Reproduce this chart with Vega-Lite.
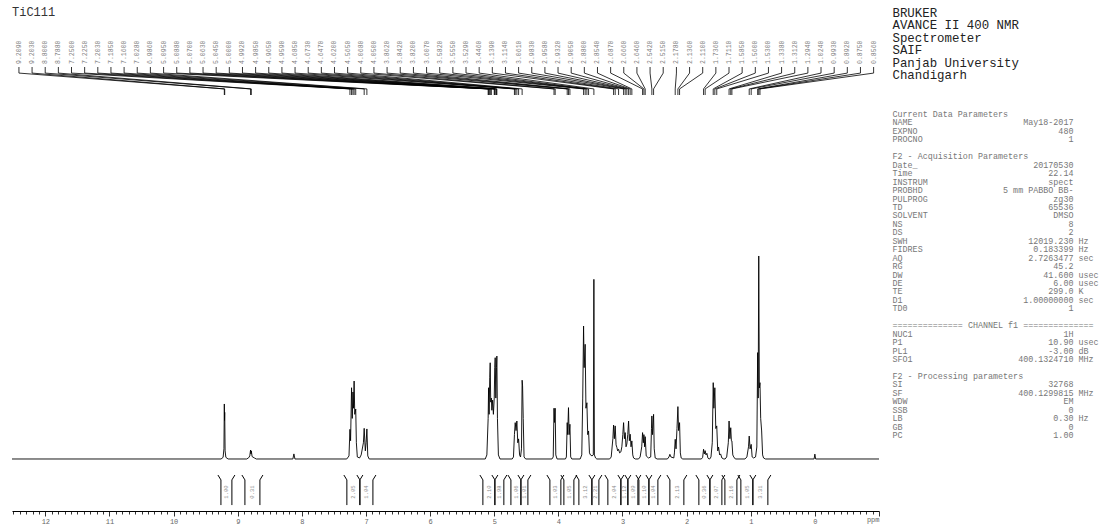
{
  "$schema": "https://vega.github.io/schema/vega-lite/v6.json",
  "padding": {"left": 10, "top": 5, "right": 4, "bottom": 0},
  "background": "white",
  "spacing": 11,
  "config": {"view": {"stroke": null}, "axis": {"disable": false}, "axisX": {"disable": false, "grid": false}},
  "datasets": {
    "spectrum": [
      {"ppm":12.52,"i":0},
      {"ppm":9.26,"i":0},{"ppm":9.228,"i":0.8},{"ppm":9.215,"i":5},{"ppm":9.209,"i":27.1},{"ppm":9.206,"i":19},{"ppm":9.203,"i":23},{"ppm":9.197,"i":4},{"ppm":9.185,"i":0.8},{"ppm":9.15,"i":0},
      {"ppm":8.86,"i":0},{"ppm":8.83,"i":0.6},{"ppm":8.812,"i":1.5},{"ppm":8.8,"i":4.4},{"ppm":8.794,"i":2.5},{"ppm":8.788,"i":4},{"ppm":8.776,"i":1.2},{"ppm":8.74,"i":0.5},{"ppm":8.71,"i":0},
      {"ppm":8.14,"i":0},{"ppm":8.124,"i":2.5},{"ppm":8.108,"i":0},
      {"ppm":7.3,"i":0},{"ppm":7.265,"i":1.5},{"ppm":7.25,"i":14.6},{"ppm":7.24,"i":9},{"ppm":7.225,"i":35.1},{"ppm":7.214,"i":20},{"ppm":7.203,"i":33},{"ppm":7.195,"i":25},{"ppm":7.185,"i":38.4},{"ppm":7.175,"i":22},{"ppm":7.16,"i":24.6},{"ppm":7.15,"i":8},{"ppm":7.135,"i":1},{"ppm":7.1,"i":0.5},{"ppm":7.075,"i":2},{"ppm":7.04,"i":8},{"ppm":7.028,"i":15.1},{"ppm":7.01,"i":4},{"ppm":6.998,"i":8},{"ppm":6.986,"i":14.8},{"ppm":6.972,"i":1.5},{"ppm":6.95,"i":0},
      {"ppm":5.14,"i":0},{"ppm":5.115,"i":2},{"ppm":5.095,"i":20},{"ppm":5.088,"i":35.1},{"ppm":5.08,"i":22},{"ppm":5.07,"i":40},{"ppm":5.063,"i":47.4},{"ppm":5.055,"i":28},{"ppm":5.045,"i":30},{"ppm":5.037,"i":24},{"ppm":5.025,"i":29},{"ppm":5.013,"i":22},{"ppm":5.0,"i":30},{"ppm":4.992,"i":45},{"ppm":4.985,"i":49.9},{"ppm":4.975,"i":30},{"ppm":4.965,"i":45},{"ppm":4.959,"i":50.7},{"ppm":4.95,"i":20},{"ppm":4.935,"i":2},{"ppm":4.91,"i":0},
      {"ppm":4.72,"i":0},{"ppm":4.7,"i":1},{"ppm":4.685,"i":12},{"ppm":4.673,"i":17.9},{"ppm":4.66,"i":14},{"ppm":4.647,"i":18.7},{"ppm":4.633,"i":8},{"ppm":4.62,"i":9.9},{"ppm":4.605,"i":2},{"ppm":4.59,"i":1},{"ppm":4.575,"i":5},{"ppm":4.565,"i":38.8},{"ppm":4.558,"i":36},{"ppm":4.548,"i":20},{"ppm":4.535,"i":1},{"ppm":4.51,"i":0},
      {"ppm":4.1,"i":0},{"ppm":4.08,"i":1},{"ppm":4.068,"i":25},{"ppm":4.06,"i":18},{"ppm":4.05,"i":25},{"ppm":4.04,"i":2},{"ppm":4.02,"i":0},
      {"ppm":3.89,"i":0},{"ppm":3.875,"i":1},{"ppm":3.862,"i":17.9},{"ppm":3.855,"i":12},{"ppm":3.842,"i":25.3},{"ppm":3.832,"i":12},{"ppm":3.82,"i":17.1},{"ppm":3.808,"i":1},{"ppm":3.79,"i":0},
      {"ppm":3.66,"i":0},{"ppm":3.635,"i":2},{"ppm":3.62,"i":30},{"ppm":3.607,"i":65.5},{"ppm":3.598,"i":45},{"ppm":3.582,"i":56.5},{"ppm":3.57,"i":25},{"ppm":3.555,"i":27.7},{"ppm":3.542,"i":12},{"ppm":3.529,"i":13.8},{"ppm":3.515,"i":3},{"ppm":3.5,"i":2},{"ppm":3.475,"i":1.5},{"ppm":3.455,"i":2},{"ppm":3.446,"i":88.5},{"ppm":3.438,"i":2},{"ppm":3.42,"i":0.5},{"ppm":3.4,"i":0},
      {"ppm":3.2,"i":0},{"ppm":3.176,"i":1},{"ppm":3.15,"i":10},{"ppm":3.139,"i":16.7},{"ppm":3.127,"i":10},{"ppm":3.114,"i":16.3},{"ppm":3.1,"i":7},{"ppm":3.087,"i":5.6},{"ppm":3.075,"i":4},{"ppm":3.061,"i":4.8},{"ppm":3.045,"i":3},{"ppm":3.025,"i":3.5},{"ppm":3.01,"i":6},{"ppm":2.995,"i":12},{"ppm":2.983,"i":17.9},{"ppm":2.97,"i":10},{"ppm":2.958,"i":13},{"ppm":2.945,"i":6},{"ppm":2.932,"i":7.4},{"ppm":2.918,"i":12},{"ppm":2.905,"i":18.7},{"ppm":2.893,"i":9},{"ppm":2.88,"i":12.2},{"ppm":2.867,"i":6},{"ppm":2.854,"i":8.9},{"ppm":2.84,"i":2},{"ppm":2.827,"i":0.5},{"ppm":2.8,"i":0},
      {"ppm":2.75,"i":0},{"ppm":2.725,"i":1},{"ppm":2.7,"i":6},{"ppm":2.687,"i":13},{"ppm":2.675,"i":8},{"ppm":2.666,"i":12},{"ppm":2.655,"i":6},{"ppm":2.646,"i":11},{"ppm":2.63,"i":1.5},{"ppm":2.595,"i":0.5},{"ppm":2.56,"i":1},{"ppm":2.548,"i":15},{"ppm":2.542,"i":21.2},{"ppm":2.532,"i":12},{"ppm":2.515,"i":22},{"ppm":2.505,"i":5},{"ppm":2.49,"i":0.5},{"ppm":2.46,"i":0},
      {"ppm":2.3,"i":0},{"ppm":2.275,"i":1},{"ppm":2.261,"i":2.3},{"ppm":2.245,"i":1},{"ppm":2.2,"i":0.5},{"ppm":2.19,"i":3},{"ppm":2.178,"i":9.7},{"ppm":2.165,"i":5},{"ppm":2.15,"i":15},{"ppm":2.136,"i":25.8},{"ppm":2.125,"i":14},{"ppm":2.11,"i":17.9},{"ppm":2.098,"i":3},{"ppm":2.085,"i":0.5},{"ppm":2.06,"i":0},
      {"ppm":1.77,"i":0},{"ppm":1.75,"i":0.8},{"ppm":1.736,"i":4.8},{"ppm":1.724,"i":2.5},{"ppm":1.711,"i":4.1},{"ppm":1.698,"i":2},{"ppm":1.684,"i":2.8},{"ppm":1.668,"i":0.5},{"ppm":1.652,"i":0},
      {"ppm":1.64,"i":0},{"ppm":1.62,"i":1},{"ppm":1.6,"i":8},{"ppm":1.585,"i":37.6},{"ppm":1.575,"i":25},{"ppm":1.56,"i":35.1},{"ppm":1.545,"i":15},{"ppm":1.53,"i":16.3},{"ppm":1.515,"i":4},{"ppm":1.502,"i":5.9},{"ppm":1.485,"i":2},{"ppm":1.47,"i":2.5},{"ppm":1.45,"i":0.5},{"ppm":1.42,"i":0},
      {"ppm":1.4,"i":0},{"ppm":1.375,"i":1},{"ppm":1.35,"i":8},{"ppm":1.338,"i":18.7},{"ppm":1.325,"i":10},{"ppm":1.312,"i":15.4},{"ppm":1.302,"i":9},{"ppm":1.294,"i":8.9},{"ppm":1.28,"i":2},{"ppm":1.265,"i":1},{"ppm":1.24,"i":0},
      {"ppm":1.09,"i":0},{"ppm":1.06,"i":1},{"ppm":1.035,"i":6},{"ppm":1.024,"i":11.3},{"ppm":1.01,"i":5},{"ppm":0.993,"i":7.2},{"ppm":0.978,"i":1},{"ppm":0.955,"i":0.5},{"ppm":0.925,"i":1},{"ppm":0.905,"i":5.9},{"ppm":0.892,"i":52.4},{"ppm":0.884,"i":30},{"ppm":0.875,"i":100},{"ppm":0.866,"i":35},{"ppm":0.856,"i":37.6},{"ppm":0.845,"i":20},{"ppm":0.83,"i":13.8},{"ppm":0.815,"i":2},{"ppm":0.8,"i":0.5},{"ppm":0.77,"i":0},
      {"ppm":0.012,"i":0},{"ppm":0.0,"i":2.4},{"ppm":-0.012,"i":0},
      {"ppm":-1.0,"i":0}
    ],
    "peaks": [
      {"p":9.209,"lx":12.412},{"p":9.203,"lx":12.207},{"p":8.8,"lx":12.002},{"p":8.788,"lx":11.797},{"p":7.25,"lx":11.592},{"p":7.225,"lx":11.387},{"p":7.203,"lx":11.182},{"p":7.185,"lx":10.977},{"p":7.16,"lx":10.772},{"p":7.028,"lx":10.567},{"p":6.986,"lx":10.362},
      {"p":5.095,"lx":10.156},{"p":5.088,"lx":9.951},{"p":5.07,"lx":9.746},{"p":5.063,"lx":9.541},{"p":5.045,"lx":9.336},{"p":5.0,"lx":9.131},{"p":4.992,"lx":8.926},{"p":4.985,"lx":8.721},{"p":4.965,"lx":8.516},{"p":4.959,"lx":8.311},
      {"p":4.685,"lx":8.106},{"p":4.673,"lx":7.901},{"p":4.647,"lx":7.696},{"p":4.62,"lx":7.491},{"p":4.565,"lx":7.286},{"p":4.068,"lx":7.081},{"p":4.05,"lx":6.876},{"p":3.862,"lx":6.671},{"p":3.842,"lx":6.466},{"p":3.82,"lx":6.26},
      {"p":3.607,"lx":6.055},{"p":3.582,"lx":5.85},{"p":3.555,"lx":5.645},{"p":3.529,"lx":5.44},{"p":3.446,"lx":5.235},{"p":3.139,"lx":5.03},{"p":3.114,"lx":4.825},{"p":3.061,"lx":4.62},{"p":2.983,"lx":4.415},{"p":2.958,"lx":4.21},
      {"p":2.932,"lx":4.005},{"p":2.905,"lx":3.8},{"p":2.88,"lx":3.595},{"p":2.854,"lx":3.39},{"p":2.687,"lx":3.185},{"p":2.666,"lx":2.98},{"p":2.646,"lx":2.775},{"p":2.542,"lx":2.57},{"p":2.515,"lx":2.365},{"p":2.178,"lx":2.159},
      {"p":2.136,"lx":1.954},{"p":2.11,"lx":1.749},{"p":1.736,"lx":1.544},{"p":1.711,"lx":1.339},{"p":1.585,"lx":1.134},{"p":1.56,"lx":0.929},{"p":1.53,"lx":0.724},{"p":1.338,"lx":0.519},{"p":1.312,"lx":0.314},{"p":1.294,"lx":0.109},
      {"p":1.024,"lx":-0.096},{"p":0.993,"lx":-0.301},{"p":0.892,"lx":-0.506},{"p":0.875,"lx":-0.711},{"p":0.856,"lx":-0.916}
    ],
    "integrals": [
      {"a":9.262,"b":9.091,"m":9.176,"v":"1.00"},
      {"a":8.888,"b":8.654,"m":8.771,"v":"0.31"},
      {"a":7.298,"b":7.095,"m":7.196,"v":"2.05"},
      {"a":7.095,"b":6.892,"m":6.993,"v":"1.04"},
      {"a":5.177,"b":4.99,"m":5.083,"v":"2.10"},
      {"a":4.99,"b":4.85,"m":4.92,"v":"1.98"},
      {"a":4.74,"b":4.584,"m":4.662,"v":"1.06"},
      {"a":4.584,"b":4.475,"m":4.53,"v":"1.01"},
      {"a":4.132,"b":3.961,"m":4.046,"v":"1.03"},
      {"a":3.914,"b":3.758,"m":3.836,"v":"1.05"},
      {"a":3.68,"b":3.477,"m":3.578,"v":"3.12"},
      {"a":3.477,"b":3.368,"m":3.422,"v":"2.21"},
      {"a":3.228,"b":3.025,"m":3.126,"v":"2.04"},
      {"a":3.025,"b":2.916,"m":2.97,"v":"1.12"},
      {"a":2.916,"b":2.76,"m":2.838,"v":"1.09"},
      {"a":2.744,"b":2.588,"m":2.666,"v":"1.10"},
      {"a":2.588,"b":2.448,"m":2.518,"v":"1.04"},
      {"a":2.261,"b":2.043,"m":2.152,"v":"2.13"},
      {"a":1.809,"b":1.637,"m":1.723,"v":"0.36"},
      {"a":1.637,"b":1.45,"m":1.543,"v":"2.07"},
      {"a":1.403,"b":1.216,"m":1.31,"v":"2.16"},
      {"a":1.154,"b":0.967,"m":1.06,"v":"1.05"},
      {"a":0.967,"b":0.733,"m":0.85,"v":"3.31"}
    ],
    "header": [
      {"h":0,"t":"BRUKER"},
      {"h":1,"t":"AVANCE II 400 NMR"},
      {"h":2,"t":"Spectrometer"},
      {"h":3,"t":"SAIF"},
      {"h":4,"t":"Panjab University"},
      {"h":5,"t":"Chandigarh"}
    ],
    "params": [
      {"r":0,"t":"Current Data Parameters"},
      {"r":1,"t":"NAME\u00a0\u00a0\u00a0\u00a0\u00a0\u00a0\u00a0\u00a0\u00a0\u00a0\u00a0\u00a0\u00a0\u00a0\u00a0\u00a0\u00a0\u00a0\u00a0\u00a0\u00a0\u00a0May18-2017"},
      {"r":2,"t":"EXPNO\u00a0\u00a0\u00a0\u00a0\u00a0\u00a0\u00a0\u00a0\u00a0\u00a0\u00a0\u00a0\u00a0\u00a0\u00a0\u00a0\u00a0\u00a0\u00a0\u00a0\u00a0\u00a0\u00a0\u00a0\u00a0\u00a0\u00a0\u00a0480"},
      {"r":3,"t":"PROCNO\u00a0\u00a0\u00a0\u00a0\u00a0\u00a0\u00a0\u00a0\u00a0\u00a0\u00a0\u00a0\u00a0\u00a0\u00a0\u00a0\u00a0\u00a0\u00a0\u00a0\u00a0\u00a0\u00a0\u00a0\u00a0\u00a0\u00a0\u00a0\u00a01"},
      {"r":5,"t":"F2 - Acquisition Parameters"},
      {"r":6,"t":"Date_\u00a0\u00a0\u00a0\u00a0\u00a0\u00a0\u00a0\u00a0\u00a0\u00a0\u00a0\u00a0\u00a0\u00a0\u00a0\u00a0\u00a0\u00a0\u00a0\u00a0\u00a0\u00a0\u00a020170530"},
      {"r":7,"t":"Time\u00a0\u00a0\u00a0\u00a0\u00a0\u00a0\u00a0\u00a0\u00a0\u00a0\u00a0\u00a0\u00a0\u00a0\u00a0\u00a0\u00a0\u00a0\u00a0\u00a0\u00a0\u00a0\u00a0\u00a0\u00a0\u00a0\u00a022.14"},
      {"r":8,"t":"INSTRUM\u00a0\u00a0\u00a0\u00a0\u00a0\u00a0\u00a0\u00a0\u00a0\u00a0\u00a0\u00a0\u00a0\u00a0\u00a0\u00a0\u00a0\u00a0\u00a0\u00a0\u00a0\u00a0\u00a0\u00a0spect"},
      {"r":9,"t":"PROBHD\u00a0\u00a0\u00a0\u00a0\u00a0\u00a0\u00a0\u00a0\u00a0\u00a0\u00a0\u00a0\u00a0\u00a0\u00a0\u00a05\u00a0mm\u00a0PABBO\u00a0BB-"},
      {"r":10,"t":"PULPROG\u00a0\u00a0\u00a0\u00a0\u00a0\u00a0\u00a0\u00a0\u00a0\u00a0\u00a0\u00a0\u00a0\u00a0\u00a0\u00a0\u00a0\u00a0\u00a0\u00a0\u00a0\u00a0\u00a0\u00a0\u00a0zg30"},
      {"r":11,"t":"TD\u00a0\u00a0\u00a0\u00a0\u00a0\u00a0\u00a0\u00a0\u00a0\u00a0\u00a0\u00a0\u00a0\u00a0\u00a0\u00a0\u00a0\u00a0\u00a0\u00a0\u00a0\u00a0\u00a0\u00a0\u00a0\u00a0\u00a0\u00a0\u00a065536"},
      {"r":12,"t":"SOLVENT\u00a0\u00a0\u00a0\u00a0\u00a0\u00a0\u00a0\u00a0\u00a0\u00a0\u00a0\u00a0\u00a0\u00a0\u00a0\u00a0\u00a0\u00a0\u00a0\u00a0\u00a0\u00a0\u00a0\u00a0\u00a0DMSO"},
      {"r":13,"t":"NS\u00a0\u00a0\u00a0\u00a0\u00a0\u00a0\u00a0\u00a0\u00a0\u00a0\u00a0\u00a0\u00a0\u00a0\u00a0\u00a0\u00a0\u00a0\u00a0\u00a0\u00a0\u00a0\u00a0\u00a0\u00a0\u00a0\u00a0\u00a0\u00a0\u00a0\u00a0\u00a0\u00a08"},
      {"r":14,"t":"DS\u00a0\u00a0\u00a0\u00a0\u00a0\u00a0\u00a0\u00a0\u00a0\u00a0\u00a0\u00a0\u00a0\u00a0\u00a0\u00a0\u00a0\u00a0\u00a0\u00a0\u00a0\u00a0\u00a0\u00a0\u00a0\u00a0\u00a0\u00a0\u00a0\u00a0\u00a0\u00a0\u00a02"},
      {"r":15,"t":"SWH\u00a0\u00a0\u00a0\u00a0\u00a0\u00a0\u00a0\u00a0\u00a0\u00a0\u00a0\u00a0\u00a0\u00a0\u00a0\u00a0\u00a0\u00a0\u00a0\u00a0\u00a0\u00a0\u00a0\u00a012019.230\u00a0Hz"},
      {"r":16,"t":"FIDRES\u00a0\u00a0\u00a0\u00a0\u00a0\u00a0\u00a0\u00a0\u00a0\u00a0\u00a0\u00a0\u00a0\u00a0\u00a0\u00a0\u00a0\u00a0\u00a0\u00a0\u00a0\u00a00.183399\u00a0Hz"},
      {"r":17,"t":"AQ\u00a0\u00a0\u00a0\u00a0\u00a0\u00a0\u00a0\u00a0\u00a0\u00a0\u00a0\u00a0\u00a0\u00a0\u00a0\u00a0\u00a0\u00a0\u00a0\u00a0\u00a0\u00a0\u00a0\u00a0\u00a02.7263477\u00a0sec"},
      {"r":18,"t":"RG\u00a0\u00a0\u00a0\u00a0\u00a0\u00a0\u00a0\u00a0\u00a0\u00a0\u00a0\u00a0\u00a0\u00a0\u00a0\u00a0\u00a0\u00a0\u00a0\u00a0\u00a0\u00a0\u00a0\u00a0\u00a0\u00a0\u00a0\u00a0\u00a0\u00a045.2"},
      {"r":19,"t":"DW\u00a0\u00a0\u00a0\u00a0\u00a0\u00a0\u00a0\u00a0\u00a0\u00a0\u00a0\u00a0\u00a0\u00a0\u00a0\u00a0\u00a0\u00a0\u00a0\u00a0\u00a0\u00a0\u00a0\u00a0\u00a0\u00a0\u00a0\u00a041.600\u00a0usec"},
      {"r":20,"t":"DE\u00a0\u00a0\u00a0\u00a0\u00a0\u00a0\u00a0\u00a0\u00a0\u00a0\u00a0\u00a0\u00a0\u00a0\u00a0\u00a0\u00a0\u00a0\u00a0\u00a0\u00a0\u00a0\u00a0\u00a0\u00a0\u00a0\u00a0\u00a0\u00a0\u00a06.00\u00a0usec"},
      {"r":21,"t":"TE\u00a0\u00a0\u00a0\u00a0\u00a0\u00a0\u00a0\u00a0\u00a0\u00a0\u00a0\u00a0\u00a0\u00a0\u00a0\u00a0\u00a0\u00a0\u00a0\u00a0\u00a0\u00a0\u00a0\u00a0\u00a0\u00a0\u00a0\u00a0\u00a0299.0\u00a0K"},
      {"r":22,"t":"D1\u00a0\u00a0\u00a0\u00a0\u00a0\u00a0\u00a0\u00a0\u00a0\u00a0\u00a0\u00a0\u00a0\u00a0\u00a0\u00a0\u00a0\u00a0\u00a0\u00a0\u00a0\u00a0\u00a0\u00a01.00000000\u00a0sec"},
      {"r":23,"t":"TD0\u00a0\u00a0\u00a0\u00a0\u00a0\u00a0\u00a0\u00a0\u00a0\u00a0\u00a0\u00a0\u00a0\u00a0\u00a0\u00a0\u00a0\u00a0\u00a0\u00a0\u00a0\u00a0\u00a0\u00a0\u00a0\u00a0\u00a0\u00a0\u00a0\u00a0\u00a0\u00a01"},
      {"r":25,"t":"==============\u00a0CHANNEL\u00a0f1\u00a0=============="},
      {"r":26,"t":"NUC1\u00a0\u00a0\u00a0\u00a0\u00a0\u00a0\u00a0\u00a0\u00a0\u00a0\u00a0\u00a0\u00a0\u00a0\u00a0\u00a0\u00a0\u00a0\u00a0\u00a0\u00a0\u00a0\u00a0\u00a0\u00a0\u00a0\u00a0\u00a0\u00a0\u00a01H"},
      {"r":27,"t":"P1\u00a0\u00a0\u00a0\u00a0\u00a0\u00a0\u00a0\u00a0\u00a0\u00a0\u00a0\u00a0\u00a0\u00a0\u00a0\u00a0\u00a0\u00a0\u00a0\u00a0\u00a0\u00a0\u00a0\u00a0\u00a0\u00a0\u00a0\u00a0\u00a010.90\u00a0usec"},
      {"r":28,"t":"PL1\u00a0\u00a0\u00a0\u00a0\u00a0\u00a0\u00a0\u00a0\u00a0\u00a0\u00a0\u00a0\u00a0\u00a0\u00a0\u00a0\u00a0\u00a0\u00a0\u00a0\u00a0\u00a0\u00a0\u00a0\u00a0\u00a0\u00a0\u00a0-3.00\u00a0dB"},
      {"r":29,"t":"SFO1\u00a0\u00a0\u00a0\u00a0\u00a0\u00a0\u00a0\u00a0\u00a0\u00a0\u00a0\u00a0\u00a0\u00a0\u00a0\u00a0\u00a0\u00a0\u00a0\u00a0\u00a0400.1324710\u00a0MHz"},
      {"r":31,"t":"F2 - Processing parameters"},
      {"r":32,"t":"SI\u00a0\u00a0\u00a0\u00a0\u00a0\u00a0\u00a0\u00a0\u00a0\u00a0\u00a0\u00a0\u00a0\u00a0\u00a0\u00a0\u00a0\u00a0\u00a0\u00a0\u00a0\u00a0\u00a0\u00a0\u00a0\u00a0\u00a0\u00a0\u00a032768"},
      {"r":33,"t":"SF\u00a0\u00a0\u00a0\u00a0\u00a0\u00a0\u00a0\u00a0\u00a0\u00a0\u00a0\u00a0\u00a0\u00a0\u00a0\u00a0\u00a0\u00a0\u00a0\u00a0\u00a0\u00a0\u00a0400.1299815\u00a0MHz"},
      {"r":34,"t":"WDW\u00a0\u00a0\u00a0\u00a0\u00a0\u00a0\u00a0\u00a0\u00a0\u00a0\u00a0\u00a0\u00a0\u00a0\u00a0\u00a0\u00a0\u00a0\u00a0\u00a0\u00a0\u00a0\u00a0\u00a0\u00a0\u00a0\u00a0\u00a0\u00a0\u00a0\u00a0EM"},
      {"r":35,"t":"SSB\u00a0\u00a0\u00a0\u00a0\u00a0\u00a0\u00a0\u00a0\u00a0\u00a0\u00a0\u00a0\u00a0\u00a0\u00a0\u00a0\u00a0\u00a0\u00a0\u00a0\u00a0\u00a0\u00a0\u00a0\u00a0\u00a0\u00a0\u00a0\u00a0\u00a0\u00a0\u00a00"},
      {"r":36,"t":"LB\u00a0\u00a0\u00a0\u00a0\u00a0\u00a0\u00a0\u00a0\u00a0\u00a0\u00a0\u00a0\u00a0\u00a0\u00a0\u00a0\u00a0\u00a0\u00a0\u00a0\u00a0\u00a0\u00a0\u00a0\u00a0\u00a0\u00a0\u00a0\u00a0\u00a00.30\u00a0Hz"},
      {"r":37,"t":"GB\u00a0\u00a0\u00a0\u00a0\u00a0\u00a0\u00a0\u00a0\u00a0\u00a0\u00a0\u00a0\u00a0\u00a0\u00a0\u00a0\u00a0\u00a0\u00a0\u00a0\u00a0\u00a0\u00a0\u00a0\u00a0\u00a0\u00a0\u00a0\u00a0\u00a0\u00a0\u00a0\u00a00"},
      {"r":38,"t":"PC\u00a0\u00a0\u00a0\u00a0\u00a0\u00a0\u00a0\u00a0\u00a0\u00a0\u00a0\u00a0\u00a0\u00a0\u00a0\u00a0\u00a0\u00a0\u00a0\u00a0\u00a0\u00a0\u00a0\u00a0\u00a0\u00a0\u00a0\u00a0\u00a0\u00a01.00"}
    ]
  },
  "hconcat": [
    {
      "width": 867,
      "height": 505,
      "encoding": {
        "x": {"type": "quantitative", "scale": {"domain": [-1.0, 12.52], "reverse": true, "nice": false, "zero": false},
          "axis": {
            "disable": false, "orient": "bottom",
            "title": "ppm", "titleAnchor": "start", "titleAlign": "right", "titleBaseline": "top", "titlePadding": -9,
            "titleFont": "Liberation Mono", "titleFontSize": 7, "titleFontWeight": "normal", "titleColor": "#666",
            "values": [12.5,12.4,12.3,12.2,12.1,12,11.9,11.8,11.7,11.6,11.5,11.4,11.3,11.2,11.1,11,10.9,10.8,10.7,10.6,10.5,10.4,10.3,10.2,10.1,10,9.9,9.8,9.7,9.6,9.5,9.4,9.3,9.2,9.1,9,8.9,8.8,8.7,8.6,8.5,8.4,8.3,8.2,8.1,8,7.9,7.8,7.7,7.6,7.5,7.4,7.3,7.2,7.1,7,6.9,6.8,6.7,6.6,6.5,6.4,6.3,6.2,6.1,6,5.9,5.8,5.7,5.6,5.5,5.4,5.3,5.2,5.1,5,4.9,4.8,4.7,4.6,4.5,4.4,4.3,4.2,4.1,4,3.9,3.8,3.7,3.6,3.5,3.4,3.3,3.2,3.1,3,2.9,2.8,2.7,2.6,2.5,2.4,2.3,2.2,2.1,2,1.9,1.8,1.7,1.6,1.5,1.4,1.3,1.2,1.1,1,0.9,0.8,0.7,0.6,0.5,0.4,0.3,0.2,0.1,0,-0.1,-0.2,-0.3,-0.4,-0.5,-0.6,-0.7,-0.8,-0.9,-1],
            "labelExpr": "datum.value >= 0 && abs(datum.value - round(datum.value)) < 0.01 ? format(datum.value, 'd') : ''",
            "labelFont": "Liberation Mono", "labelFontSize": 7, "labelColor": "#666", "labelPadding": 1,
            "labelOverlap": false, "labelFlush": false, "grid": false,
            "domainColor": "#000", "domainWidth": 1, "tickColor": "#000", "tickWidth": 0.8, "tickSize": 5,
            "tickDash": {"condition": {"test": "abs(datum.value - round(datum.value)) < 0.01", "value": []}, "value": [3, 10]}
          }
        },
        "y": {"type": "quantitative", "scale": {"domain": [-25.62, 223.15], "nice": false, "zero": false}, "axis": null}
      },
      "layer": [
        {
          "data": {"name": "spectrum"},
          "mark": {"type": "line", "color": "#000", "strokeWidth": 0.9},
          "encoding": {
            "x": {"field": "ppm"},
            "y": {"field": "i"}
          }
        },
        {
          "data": {"values": [{"t": "TiC111"}]},
          "mark": {"type": "text", "align": "left", "baseline": "middle", "font": "Liberation Mono", "fontSize": 12, "color": "#333"},
          "encoding": {
            "x": {"datum": 12.52},
            "y": {"datum": 220.2},
            "text": {"field": "t"}
          }
        },
        {
          "data": {"name": "peaks"},
          "mark": {"type": "text", "angle": 270, "align": "left", "baseline": "middle", "font": "Liberation Mono", "fontSize": 6.5, "color": "#808080"},
          "encoding": {
            "x": {"field": "lx"},
            "y": {"datum": 194.6},
            "text": {"field": "p", "type": "quantitative", "format": ".4f"}
          }
        },
        {
          "data": {"name": "peaks"},
          "mark": {"type": "rule", "color": "#000", "strokeWidth": 0.8},
          "encoding": {
            "x": {"field": "lx"},
            "y": {"datum": 193.1},
            "y2": {"datum": 190.1}
          }
        },
        {
          "data": {"name": "peaks"},
          "mark": {"type": "rule", "color": "#000", "strokeWidth": 0.8},
          "encoding": {
            "x": {"field": "lx"},
            "x2": {"field": "p"},
            "y": {"datum": 190.1},
            "y2": {"datum": 182.3}
          }
        },
        {
          "data": {"name": "peaks"},
          "mark": {"type": "rule", "color": "#000", "strokeWidth": 0.8},
          "encoding": {
            "x": {"field": "p"},
            "y": {"datum": 182.3},
            "y2": {"datum": 179.3}
          }
        },
        {
          "data": {"name": "integrals"},
          "mark": {"type": "rule", "color": "#000", "strokeWidth": 1},
          "encoding": {
            "x": {"field": "a"},
            "y": {"datum": -10.3},
            "y2": {"datum": -22.7}
          }
        },
        {
          "data": {"name": "integrals"},
          "mark": {"type": "rule", "color": "#000", "strokeWidth": 1},
          "encoding": {
            "x": {"field": "b"},
            "y": {"datum": -10.3},
            "y2": {"datum": -22.7}
          }
        },
        {
          "data": {"name": "integrals"},
          "mark": {"type": "rule", "color": "#000", "strokeWidth": 1, "xOffset": -3},
          "encoding": {
            "x": {"field": "a"},
            "x2": {"field": "a"},
            "y": {"datum": -7.9},
            "y2": {"datum": -10.3}
          }
        },
        {
          "data": {"name": "integrals"},
          "mark": {"type": "rule", "color": "#000", "strokeWidth": 1, "xOffset": 3},
          "encoding": {
            "x": {"field": "b"},
            "x2": {"field": "b"},
            "y": {"datum": -7.9},
            "y2": {"datum": -10.3}
          }
        },
        {
          "data": {"name": "integrals"},
          "mark": {"type": "text", "angle": 270, "align": "center", "baseline": "middle", "font": "Liberation Mono", "fontSize": 5.5, "color": "#8a8a8a"},
          "encoding": {
            "x": {"field": "m"},
            "y": {"datum": -16.3},
            "text": {"field": "v"}
          }
        }
      ]
    },
    {
      "width": 1,
      "height": 505,
      "layer": [
        {
          "data": {"name": "header"},
          "mark": {"type": "text", "align": "left", "baseline": "middle", "font": "Liberation Mono", "fontSize": 12.4, "color": "#222"},
          "encoding": {
            "y": {"field": "h", "type": "quantitative", "scale": {"domain": [-0.5645, 40.16], "reverse": true, "nice": false, "zero": false}, "axis": null},
            "text": {"field": "t"}
          }
        },
        {
          "data": {"name": "params"},
          "mark": {"type": "text", "align": "left", "baseline": "middle", "font": "Liberation Mono", "fontSize": 8.4, "color": "#777"},
          "encoding": {
            "y": {"field": "r", "type": "quantitative", "scale": {"domain": [-12.781, 46.982], "reverse": true, "nice": false, "zero": false}, "axis": null},
            "text": {"field": "t"}
          }
        }
      ],
      "resolve": {"scale": {"y": "independent"}}
    }
  ]
}
